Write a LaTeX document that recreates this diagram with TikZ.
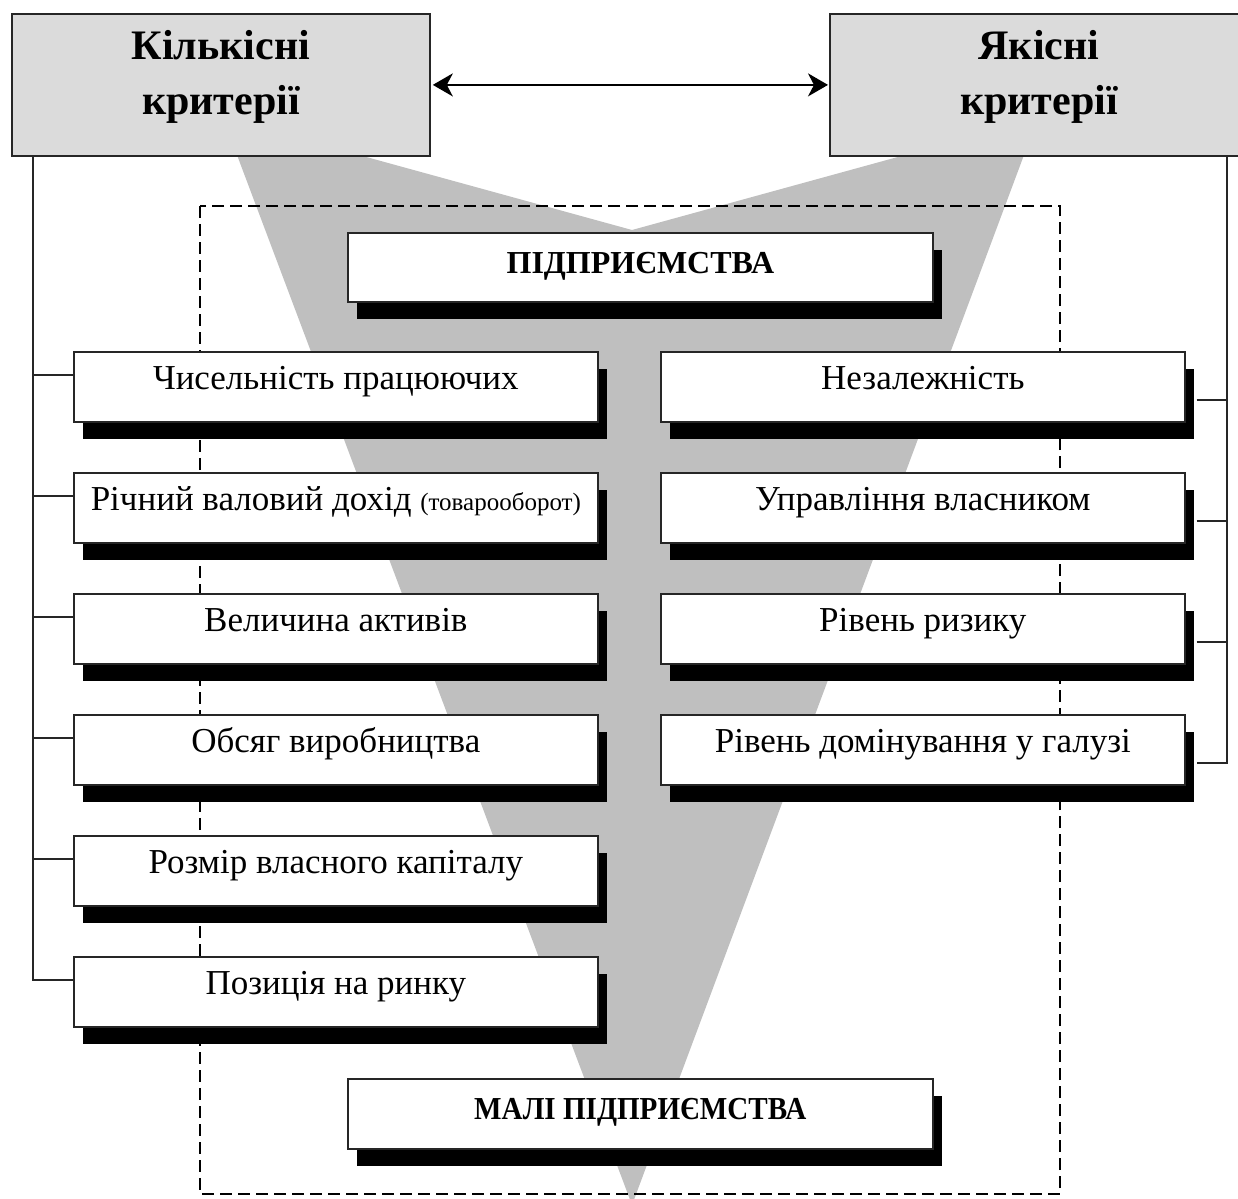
\documentclass[tikz,border=0pt]{standalone}
\usepackage{fontspec}
\setmainfont{Liberation Serif}
\usetikzlibrary{shadows,calc,arrows.meta}
\begin{document}
\begin{tikzpicture}[x=1pt,y=-1pt,
  crit/.style={draw=black!85, line width=1.8pt, fill=black!14, minimum width=418pt, minimum height=142pt,
    anchor=north west, inner sep=0pt, font=\fontsize{42}{55}\selectfont\bfseries},
  itembox/.style={draw=black!85, line width=1.7pt, fill=white, minimum width=524pt, minimum height=70pt,
    anchor=north west, inner sep=0pt, text height=0.7em, text depth=0.25em,
    font=\fontsize{35}{40}\selectfont,
    drop shadow={shadow xshift=9pt, shadow yshift=-17pt, fill=black, opacity=1}},
  headbox/.style={itembox, minimum width=585pt, minimum height=69pt,
    font=\fontsize{32}{36}\selectfont\bfseries},
  conn/.style={line width=1.8pt, draw=black!85},
  dashrect/.style={line width=2.8pt, dash pattern=on 12pt off 6pt},
  biarrow/.style={line width=2.2pt,
    {Stealth[length=20pt,width=23pt,inset=6pt]}-{Stealth[length=20pt,width=23pt,inset=6pt]}},
]
\useasboundingbox (0,0) rectangle (1238,1198);
% funnel
\fill[black!25] (237,155) -- (359,155) -- (632,230) -- (905,155) -- (1024,155) -- (632,1205) -- cycle;
% dashed frame
\draw[dashrect] (200,206) rectangle (1060,1194);
% top boxes
\node[crit] (kc) at (11,13) {\raisebox{9pt}[\height][\depth]{\begin{tabular}{@{}c@{}}Кількісні\\критерії\end{tabular}}};
\node[crit] (yc) at (829,13) {\raisebox{9pt}[\height][\depth]{\begin{tabular}{@{}c@{}}Якісні\\критерії\end{tabular}}};
\draw[biarrow, shorten <=2pt, shorten >=1pt] (kc.east) -- (yc.west);
% headings
\node[headbox] (hd) at (347,232) {\raisebox{-4pt}[\height][\depth]{ПІДПРИЄМСТВА}};
\node[headbox, minimum height=70pt] (md) at (347,1078) {\raisebox{-3pt}[\height][\depth]{\scalebox{0.91}[1]{МАЛІ ПІДПРИЄМСТВА}}};
% left items
\node[itembox] (l1) at (73,351) {Чисельність працюючих};
\node[itembox] (l2) at (73,472) {Річний валовий дохід {\fontsize{25}{28}\selectfont(товарооборот)}};
\node[itembox] (l3) at (73,593) {Величина активів};
\node[itembox] (l4) at (73,714) {Обсяг виробництва};
\node[itembox] (l5) at (73,835) {Розмір власного капіталу};
\node[itembox] (l6) at (73,956) {Позиція на ринку};
% right items
\node[itembox] (r1) at (660,351) {Незалежність};
\node[itembox] (r2) at (660,472) {Управління власником};
\node[itembox] (r3) at (660,593) {Рівень ризику};
\node[itembox] (r4) at (660,714) {Рівень домінування у галузі};
% left connectors
\coordinate (ltop) at ($(kc.south west)+(22,0)$);
\foreach \i in {1,...,6}{\coordinate (t\i) at ($(l\i.north west)+(0,24)$);}
\draw[conn] (ltop) |- (t6);
\foreach \i in {1,...,5}{\draw[conn] (t\i) -- (ltop |- t\i);}
% right connectors
\coordinate (rtop) at ($(yc.south west)+(398,0)$);
\foreach \i in {1,...,4}{\coordinate (s\i) at ($(r\i.north east)+(11,49)$);}
\draw[conn] (rtop) |- (s4);
\foreach \i in {1,...,3}{\draw[conn] (s\i) -- (rtop |- s\i);}
\end{tikzpicture}
\end{document}
